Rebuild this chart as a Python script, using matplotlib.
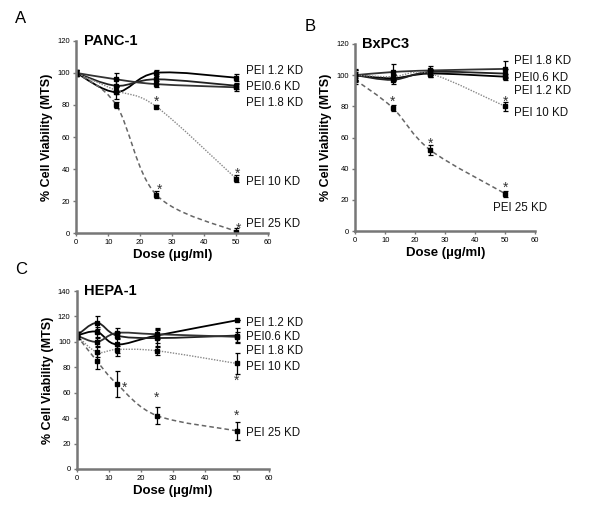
import numpy as np
import matplotlib
matplotlib.use('Agg')
import matplotlib.pyplot as plt
from matplotlib.path import Path
from matplotlib.patches import PathPatch

plt.rcParams['font.family'] = ['Liberation Sans', 'DejaVu Sans']

# ============================================================
# data
# ============================================================
series_names = ['PEI 1.2 KD', 'PEI0.6 KD', 'PEI 1.8 KD', 'PEI 10 KD', 'PEI 25 KD']

dose_ab = [0, 12.5, 25, 50]
dose_c = [0, 6.25, 12.5, 25, 50]

panc_vals = [[100, 88, 100, 97],
             [100, 92, 96, 92],
             [100, 96, 93, 91],
             [100, 89, 79, 34],
             [100, 80, 24, 1]]
panc_err = [[2, 4, 2, 2], [2, 4, 3, 2], [2, 4, 2, 2], [1, 2, 1, 2], [2, 2, 2, 2]]

bxpc_vals = [[100, 98, 101, 99],
             [100, 97, 102, 101],
             [100, 102, 103, 104],
             [100, 99, 101, 80],
             [97, 79, 52, 24]]
bxpc_err = [[3, 2, 2, 2], [3, 3, 2, 3], [4, 5, 3, 5], [2, 2, 2, 3], [3, 2, 3, 2]]

hepa_vals = [[105, 108, 98, 105, 117],
             [105, 115, 105, 103, 105],
             [105, 100, 107, 106, 104],
             [105, 92, 94, 93, 83],
             [105, 85, 67, 42, 30]]
hepa_err = [[3, 4, 9, 6, 0], [3, 5, 3, 6, 6], [3, 3, 4, 4, 4], [3, 4, 3, 3, 8], [3, 6, 10, 7, 7]]

# label positions (x, y) per panel, in series order
panc_lab = [(53, 101), (53, 91), (53, 81), (53, 32), (53, 6)]
bxpc_lab = [(53, 90), (53, 98), (53, 109), (53, 76), (46, 15)]
hepa_lab = [(53, 115), (53, 104), (53, 93), (53, 80), (53, 28)]

panc_stars = [(25, 82), (50.3, 37), (26, 27), (50.8, 3)]
bxpc_stars = [(12.5, 83), (25, 56), (50, 83), (50, 28)]
hepa_stars = [(15, 64), (25, 56), (50, 69), (50, 42)]

# ============================================================
# style
# ============================================================
styles = [dict(color='black', lw=1.3, ls='-'),
          dict(color='#222222', lw=1.3, ls='-'),
          dict(color='#333333', lw=1.3, ls='-'),
          dict(color='#888888', lw=1.0, ls=(0, (1, 1))),
          dict(color='#666666', lw=1.1, ls=(0, (3, 2)))]


def smooth_path(x, y):
    verts = [(x[0], y[0])]
    codes = [Path.MOVETO]
    n = len(x)
    for i in range(n - 1):
        xa, ya = (x[i - 1], y[i - 1]) if i > 0 else (x[i], y[i])
        xb, yb = (x[i + 2], y[i + 2]) if i + 2 < n else (x[i + 1], y[i + 1])
        c1 = (x[i] + (x[i + 1] - xa) / 6, y[i] + (y[i + 1] - ya) / 6)
        c2 = (x[i + 1] - (xb - x[i]) / 6, y[i + 1] - (yb - y[i]) / 6)
        verts += [c1, c2, (x[i + 1], y[i + 1])]
        codes += [Path.CURVE4] * 3
    return Path(verts, codes)


def draw_panel(ax, dose, vals, errs, labs, stars, title, ymax):
    for k, (v, e) in enumerate(zip(vals, errs)):
        st = styles[k]
        ax.add_patch(PathPatch(smooth_path(dose, v), facecolor='none',
                               edgecolor=st['color'], lw=st['lw'], ls=st['ls']))
        ax.errorbar(dose, v, yerr=e, fmt='s', ms=2.8, color='black',
                    ecolor='black', elinewidth=0.9, capsize=1.8, capthick=0.9)
        ax.text(labs[k][0], labs[k][1], series_names[k], fontsize=8.3,
                va='center', ha='left', color='#111111', clip_on=False)
    for sx, sy in stars:
        ax.text(sx, sy, '*', fontsize=10, ha='center', va='center', color='#333333')
    ax.set_xlim(0, 60)
    ax.set_ylim(0, ymax)
    ax.set_xticks(np.arange(0, 61, 10))
    ax.set_yticks(np.arange(0, ymax + 1, 20))
    for s in ['top', 'right']:
        ax.spines[s].set_visible(False)
    for s in ['left', 'bottom']:
        ax.spines[s].set_color('#777777')
        ax.spines[s].set_linewidth(1.8)
    ax.tick_params(labelsize=5.5, length=2.5, width=1, color='#777777', pad=2)
    ax.set_ylabel('% Cell Viability (MTS)', fontsize=9, weight='bold', labelpad=3)
    ax.set_xlabel('Dose (\u00b5g/ml)', fontsize=9.5, weight='bold', labelpad=2)
    ax.text(0.04, 1.0, title, transform=ax.transAxes, fontsize=10.5,
            weight='bold', va='center')


fig = plt.figure(figsize=(6.0, 5.17), dpi=100)

axA = fig.add_axes([0.127, 0.549, 0.320, 0.372])
draw_panel(axA, dose_ab, panc_vals, panc_err, panc_lab, panc_stars, 'PANC-1', 120)

axB = fig.add_axes([0.592, 0.553, 0.300, 0.362])
draw_panel(axB, dose_ab, bxpc_vals, bxpc_err, bxpc_lab, bxpc_stars, 'BxPC3', 120)

axC = fig.add_axes([0.128, 0.093, 0.320, 0.344])
draw_panel(axC, dose_c, hepa_vals, hepa_err, hepa_lab, hepa_stars, 'HEPA-1', 140)

fig.text(0.025, 0.955, 'A', fontsize=12)
fig.text(0.508, 0.94, 'B', fontsize=12)
fig.text(0.025, 0.47, 'C', fontsize=12)

fig.savefig('out.png', dpi=100)
